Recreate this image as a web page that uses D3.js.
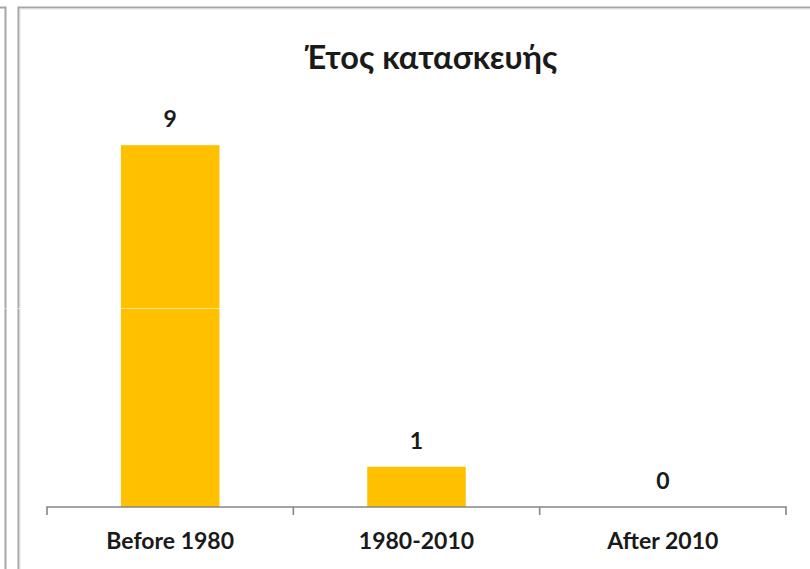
<!DOCTYPE html>
<html lang="el">
<head>
    <meta charset="UTF-8">
    <title>Έτος κατασκευής</title>
    <script src="https://d3js.org/d3.v7.min.js"></script>
    <style>
    html, body {
        margin: 0;
        padding: 0;
        background: #fff;
    }
    .lbl {
        font-family: Lato, "Open Sans", sans-serif;
        font-weight: bold;
        fill: #1a1a1a;
    }
    </style>
</head>
<body>
<div id="chart"></div>
<script>

    // data
    var categories = ["Before 1980", "1980-2010", "After 2010"];
    var values = [9, 1, 0];
    var chartTitle = "Έτος κατασκευής";

    var W = 810, H = 569;
    var plot = {left: 47, right: 786, top: 105, bottom: 507};

    var svg = d3.select("#chart").append("svg")
        .attr("width", W)
        .attr("height", H);

    // frame of the previous chart on the left + this chart's frame
    svg.append("path")
        .attr("d", "M0,7.5H5.5V" + H)
        .attr("fill", "none").attr("stroke", "#a6a6a6").attr("stroke-width", 2);
    svg.append("path")
        .attr("d", "M18.5," + H + "V7.5H" + W)
        .attr("fill", "none").attr("stroke", "#a6a6a6").attr("stroke-width", 2);
    svg.append("path")
        .attr("d", "M20," + H + "V9H" + W)
        .attr("fill", "none").attr("stroke", "#e2e2e2").attr("stroke-width", 1);

    var x = d3.scaleBand()
        .domain(categories)
        .range([plot.left, plot.right])
        .padding(0);

    var y = d3.scaleLinear()
        .domain([0, 10])
        .range([plot.bottom, plot.top]);

    var barW = x.bandwidth() * 0.4;

    // bars
    svg.selectAll("rect.bar").data(values).enter().append("rect")
        .attr("class", "bar")
        .attr("x", function(d, i) { return x(categories[i]) + (x.bandwidth() - barW) / 2; })
        .attr("y", function(d) { return y(d); })
        .attr("width", barW)
        .attr("height", function(d) { return y(0) - y(d); })
        .attr("fill", "#ffc000");

    // value labels
    svg.selectAll("text.val").data(values).enter().append("text")
        .attr("class", "lbl val")
        .attr("x", function(d, i) { return x(categories[i]) + x.bandwidth() / 2; })
        .attr("y", function(d) { return y(d) - 18; })
        .attr("text-anchor", "middle")
        .style("font-size", "23px")
        .text(function(d) { return d; });

    // x axis
    var xAxis = svg.append("g")
        .attr("transform", "translate(0," + plot.bottom + ")")
        .call(d3.axisBottom(x).tickSize(0).tickPadding(0));
    xAxis.select(".domain")
        .attr("d", "M" + plot.left + ",8V0H" + plot.right + "V8")
        .attr("stroke", "#868686")
        .attr("stroke-width", 1.6);
    xAxis.selectAll(".tick text")
        .attr("class", "lbl")
        .attr("y", 42)
        .attr("dy", null)
        .attr("fill", "#1a1a1a")
        .style("font-size", "23px");

    // boundary ticks between categories
    xAxis.selectAll("line.sep").data(categories.slice(1)).enter().append("line")
        .attr("class", "sep")
        .attr("x1", function(d) { return x(d); })
        .attr("x2", function(d) { return x(d); })
        .attr("y1", 0).attr("y2", 8)
        .attr("stroke", "#868686")
        .attr("stroke-width", 1.6);

    // title
    svg.append("text")
        .attr("class", "lbl")
        .attr("x", 431)
        .attr("y", 69)
        .attr("text-anchor", "middle")
        .style("font-size", "32.5px")
        .text(chartTitle);

    // faint seam across the picture
    svg.append("line")
        .attr("x1", 0).attr("x2", W)
        .attr("y1", 308.5).attr("y2", 308.5)
        .attr("stroke", "#fff")
        .attr("stroke-opacity", 0.55)
        .attr("stroke-width", 1);

</script>
</body>
</html>
